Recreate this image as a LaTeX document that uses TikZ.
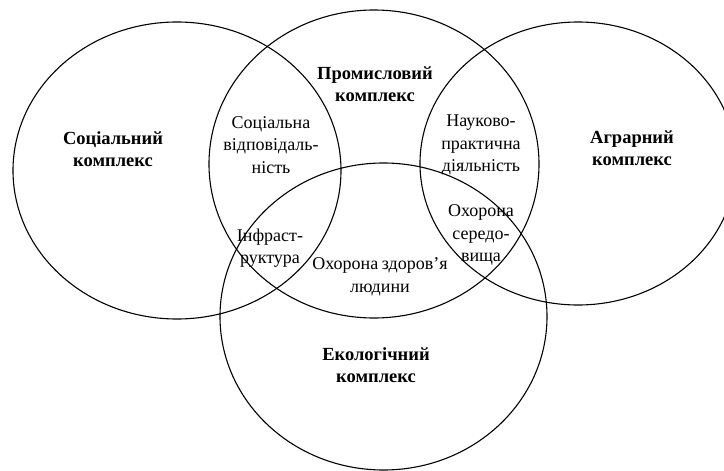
\documentclass[tikz,border=0pt]{standalone}
\usepackage{fontspec}
\setmainfont{Liberation Serif}

\begin{document}
\begin{tikzpicture}[x=1pt,y=-1pt]
	\tikzset{sphere/.style = {line width=1.1pt}}
	\tikzset{bigname/.style = {align=center,font=\fontsize{18.5}{22.5}\selectfont\bfseries,inner sep=0pt}}
	\tikzset{overlap/.style = {align=center,font=\fontsize{18}{22.5}\selectfont,inner sep=0pt}}
	\useasboundingbox (0,0) rectangle (724,471);
	\clip (0,0) rectangle (724,471);
	%spheres
	\draw[sphere] (177,170.5) ellipse [x radius=164pt, y radius=148.5pt];
	\draw[sphere] (374,164) ellipse [x radius=165pt, y radius=154pt];
	\draw[sphere] (578,163.5) ellipse [x radius=158pt, y radius=141.5pt];
	\draw[sphere] (383.5,316.5) ellipse [x radius=163.5pt, y radius=153.5pt];
	%complexes
	\node[bigname] (soc) at (113,149) {Соціальний\\комплекс};
	\node[bigname] (prom) at (375,84) {Промисловий\\комплекс};
	\node[bigname] (agr) at (632,148) {Аграрний\\комплекс};
	\node[bigname] (eko) at (376,365) {Екологічний\\комплекс};
	%overlaps
	\node[overlap] (socvid) at (271,145) {Соціальна\\відповідаль-\\ність};
	\node[overlap] (nauk) at (481,145) {Науково-\\практична\\діяльність};
	\node[overlap] (sered) at (481,235) {Охорона\\середо-\\вища};
	\node[overlap] (infra) at (270,248) {Інфраст-\\руктура};
	\node[overlap] (zdor) at (380,277) {\spaceskip=3.5pt Охорона здоров’я\\людини};
\end{tikzpicture}
\end{document}
